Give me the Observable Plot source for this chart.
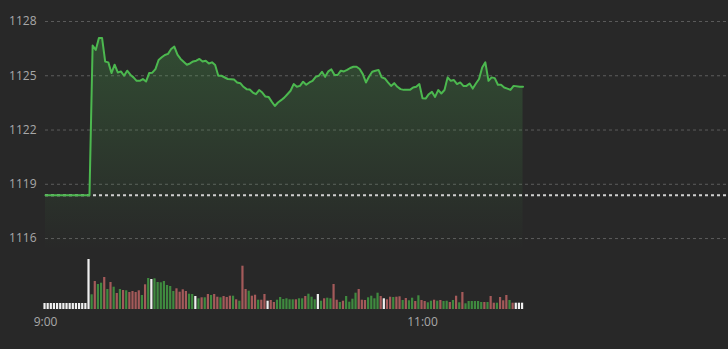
<!DOCTYPE html>
<html>
<head>
<meta charset="utf-8">
<script src="https://cdn.jsdelivr.net/npm/d3@7"></script>
<script src="https://cdn.jsdelivr.net/npm/@observablehq/plot@0.6"></script>
<style>
  html, body { margin: 0; padding: 0; background: #282828; }
  #chart { width: 728px; height: 349px; position: relative; background: #282828; }
  #chart svg { display: block; }
</style>
</head>
<body>
<div id="chart"></div>
<script>
// ---------- data ----------
const refPrice = 1118.4;
const yTicks = [1116, 1119, 1122, 1125, 1128];
const xTickTimes = ["9:00", "11:00"];

const priceTimes = [
  "9:00","9:14","9:15","9:16","9:17","9:18","9:19","9:20","9:21","9:22","9:23","9:24","9:25","9:26","9:27","9:28","9:29","9:30",
  "9:31","9:32","9:33","9:34","9:35","9:36","9:37","9:38","9:39","9:40","9:41","9:42","9:43","9:45","9:46","9:47","9:48","9:49",
  "9:50","9:51","9:52","9:53","9:54","9:55","9:56","9:58","10:00","10:01","10:02","10:03","10:04","10:05","10:06","10:07","10:08",
  "10:09","10:10","10:11","10:12","10:13","10:14","10:15","10:16","10:17","10:18","10:19","10:20","10:21","10:22","10:23","10:24",
  "10:25","10:26","10:27","10:28","10:29","10:30","10:31","10:32","10:33","10:34","10:35","10:36","10:37","10:38","10:39","10:40",
  "10:41","10:42","10:43","10:44","10:45","10:46","10:47","10:48","10:49","10:50","10:51","10:52","10:53","10:54","10:56","10:57",
  "10:58","10:59","11:00","11:01","11:02","11:03","11:04","11:05","11:06","11:07","11:08","11:09","11:10","11:11","11:12","11:13",
  "11:14","11:15","11:16","11:17","11:18","11:19","11:20","11:21","11:22","11:23","11:24","11:25","11:26","11:27","11:28","11:29",
  "11:31","11:32"
];
const prices = [
  1118.4,1118.4,1126.67,1126.43,1127.09,1127.09,1125.78,1125.74,1125.15,1125.61,1125.18,1125.24,1125.00,1125.28,1125.06,1124.91,1124.72,1124.72,
  1124.82,1124.68,1125.15,1125.17,1125.37,1125.87,1126.02,1126.15,1126.21,1126.48,1126.61,1126.17,1125.93,1125.61,1125.68,1125.79,1125.83,1125.93,
  1125.79,1125.83,1125.68,1125.74,1125.59,1125.00,1125.00,1124.82,1124.79,1124.63,1124.59,1124.39,1124.26,1124.24,1124.07,1123.98,1124.21,
  1124.07,1123.85,1123.83,1123.57,1123.33,1123.52,1123.65,1123.79,1123.98,1124.17,1124.54,1124.39,1124.44,1124.67,1124.50,1124.63,
  1124.72,1124.94,1125.00,1125.22,1124.94,1125.24,1125.35,1125.04,1125.04,1125.28,1125.24,1125.32,1125.43,1125.50,1125.50,1125.37,
  1125.09,1124.63,1124.96,1125.22,1125.28,1125.32,1124.91,1124.85,1124.63,1124.44,1124.59,1124.39,1124.26,1124.22,1124.22,1124.35,
  1124.39,1124.54,1123.76,1123.74,1123.98,1124.11,1123.83,1124.21,1124.02,1124.21,1124.91,1124.72,1124.76,1124.54,1124.63,1124.44,
  1124.44,1124.57,1124.29,1124.57,1124.82,1125.46,1125.74,1124.72,1124.91,1124.87,1124.50,1124.50,1124.35,1124.29,1124.22,1124.44,
  1124.39,1124.39
];

// volume: one bar per minute starting at 9:00
const volStart = "9:00";
const volumes = [
  6,6,6,6,6,6,6,6,6,6,6,6,6,6,50,
  14.7,28,25,26.3,32,20,27,22.3,16,20,19,18.7,17,18,17,18.7,14,24.7,31,30,30.7,27,26.7,28,24,23,18,20.7,17.3,19.7,18,15.3,15,13,
  10.7,11.7,11.7,15,14,15,12.3,11.7,13,12,13.3,13.3,9.7,8.3,43.3,20,18.3,13.3,14.3,9.3,9.3,15,8.3,9,7,9.3,12,
  10,10.7,9.7,9.7,9.7,10.7,10.7,13,15.3,12.3,9.7,15,8.3,10.7,11.3,10.7,25,9.3,7,8.3,13,7.3,10.3,16.3,20,9.3,9,11.7,13.3,10.7,16.3,
  13,10.7,9.7,12.3,12,12.3,12.7,9,11,8.7,11.3,8,13.7,9,8,6.7,8.3,9.3,8.3,9,8,8.3,7,9,13.3,6.7,17,5.7,8,8,8,8,7,7,7,13,6.3,6.3,12,
  8.7,14,9,6.3,6.3,6.3,6.3
];
// w = unchanged, g = up, r = down
const volDir = (
  "wwwwwwwwwwwwwww" +
  "grggrgrgrg" + "rgrrrrgrgw" + "gggggggrrr" + "rggwgrgrgr" + "rgrrrgrgrr" + "grrgrrwrrg" + "g" +
  "ggggrggrgg" + "gwgrggrrgr" + "ggggrrrggg" + "grwrrgrrgr" + "ggrgrrggrg" + "rggrgrgrgg" + "ggggrgrrgr" + "rrgrwww"
);

// ---------- helpers ----------
const toMin = s => { const [h, m] = s.split(":").map(Number); return (h - 9) * 60 + m; };
const priceData = priceTimes.map((s, i) => ({t: toMin(s), v: prices[i]}));
const v0 = toMin(volStart);
const volData = volumes.map((v, i) => ({t: v0 + i, v, d: volDir[i] || "g"}));
const volColor = {w: "#f0f0f0", g: "#3f8a3f", r: "#a45a5a"};

const xMax = 217.4;
const yDom = [1115.34, 1129.16];
const font = "'Open Sans', sans-serif";

const defs = () => {
  const g = d3.create("svg:defs");
  const lg = g.append("linearGradient").attr("id", "areaGrad").attr("x1", 0).attr("y1", 0).attr("x2", 0).attr("y2", 1);
  lg.append("stop").attr("offset", "0%").attr("stop-color", "#4caf50").attr("stop-opacity", 0.27);
  lg.append("stop").attr("offset", "100%").attr("stop-color", "#4caf50").attr("stop-opacity", 0.0);
  return g.node();
};

const pricePlot = Plot.plot({
  width: 728, height: 250,
  marginLeft: 45, marginRight: 0, marginTop: 0, marginBottom: 0,
  style: {background: "transparent", color: "#a8a8a8", fontFamily: font, fontSize: "12px", overflow: "visible"},
  x: {domain: [0, xMax], axis: null},
  y: {domain: yDom, ticks: yTicks, tickSize: 0, tickPadding: 9, label: null, tickFormat: d => String(d)},
  marks: [
    defs,
    Plot.gridY(yTicks, {stroke: "#5c5c5c", strokeOpacity: 1, strokeDasharray: "3,3"}),
    Plot.areaY(priceData, {x: "t", y1: () => yDom[0], y2: "v", fill: "url(#areaGrad)"}),
    Plot.ruleY([refPrice], {stroke: "#cfcfcf", strokeWidth: 2, strokeDasharray: "3,3"}),
    Plot.line(priceData, {x: "t", y: "v", stroke: "#4cb84f", strokeWidth: 2})
  ]
});

const volPlot = Plot.plot({
  width: 728, height: 99,
  marginLeft: 45, marginRight: 0, marginTop: 0, marginBottom: 40,
  style: {background: "transparent", color: "#a8a8a8", fontFamily: font, fontSize: "12px", overflow: "visible"},
  x: {domain: [0, xMax], ticks: xTickTimes.map(toMin), tickSize: 0, tickPadding: 8, label: null,
      tickFormat: m => xTickTimes[xTickTimes.map(toMin).indexOf(m)]},
  y: {domain: [0, 59], axis: null},
  marks: [
    Plot.rect(volData, {x1: d => d.t - 0.5, x2: d => d.t + 0.2, y1: 0, y2: "v", inset: 0, fill: d => volColor[d.d]})
  ]
});

const c = document.getElementById("chart");
c.appendChild(pricePlot);
c.appendChild(volPlot);
</script>
</body>
</html>
